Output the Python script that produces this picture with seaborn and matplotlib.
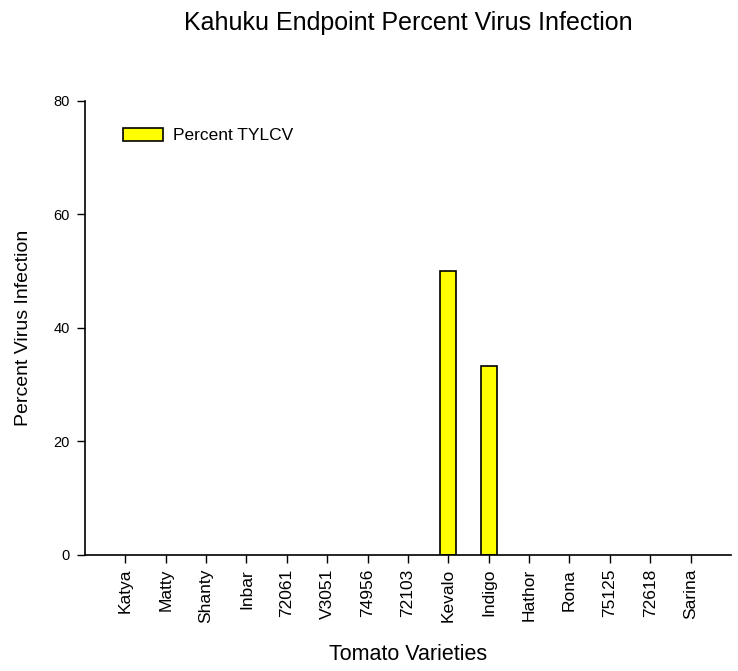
import pandas as pd
import numpy as np
import matplotlib.pyplot as plt
import seaborn as sns
from matplotlib.patches import Patch

## Datos
variedades = ['Katya', 'Matty', 'Shanty', 'Inbar', '72061', 'V3051', '74956', '72103',
              'Kevalo', 'Indigo', 'Hathor', 'Rona', '75125', '72618', 'Sarina']
porcentaje_tylcv = [0, 0, 0, 0, 0, 0, 0, 0, 50, 33.3, 0, 0, 0, 0, 0]

df = pd.DataFrame({'Variedad': variedades, 'Porcentaje': porcentaje_tylcv})

## Grafico
sns.set_style('white')
plt.rcParams['font.family'] = ['Liberation Sans', 'DejaVu Sans']
plt.rcParams['text.color'] = 'black'
plt.rcParams['axes.labelcolor'] = 'black'
plt.rcParams['xtick.color'] = 'black'
plt.rcParams['ytick.color'] = 'black'

fig = plt.figure(figsize=(7.38, 6.71), dpi=100)
ax = fig.add_axes([0.115, 0.173, 0.8755, 0.6765])

sns.barplot(data=df, x='Variedad', y='Porcentaje', color='#ffff00', saturation=1,
            edgecolor='black', linewidth=1.2, width=0.4, ax=ax)

# las barras en cero no se dibujan
for p in ax.patches:
    if p.get_height() == 0:
        p.set_visible(False)

ax.set_xlim(-1, 15)
ax.set_ylim(0, 80)
ax.set_yticks([0, 20, 40, 60, 80])
sns.despine(ax=ax)
for s in ['left', 'bottom']:
    ax.spines[s].set_color('black')
    ax.spines[s].set_linewidth(1.2)

ax.tick_params(axis='both', direction='out', length=6, width=1, bottom=True, left=True)
ax.tick_params(axis='x', labelsize=12.5, pad=4)
ax.tick_params(axis='y', labelsize=10.5, pad=5)
plt.setp(ax.get_xticklabels(), rotation=90)

ax.set_title('Kahuku Endpoint Percent Virus Infection', fontsize=18, pad=51)
ax.set_xlabel('Tomato Varieties', fontsize=15.5, labelpad=15)
ax.set_ylabel('Percent Virus Infection', fontsize=14, labelpad=15)

handle = Patch(facecolor='#ffff00', edgecolor='black', linewidth=1.2, label='Percent TYLCV')
ax.legend(handles=[handle], loc='upper left', bbox_to_anchor=(0.035, 0.975), frameon=False,
          fontsize=12.5, handlelength=2.3, handleheight=0.75, handletextpad=0.6)

fig.savefig('out.png', dpi=100)
